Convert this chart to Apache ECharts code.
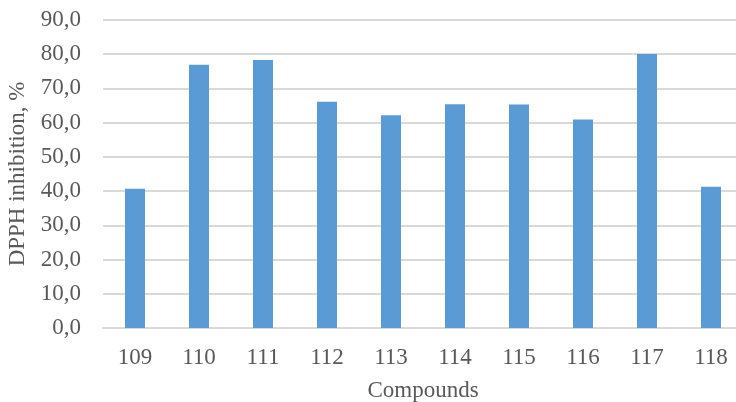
<!DOCTYPE html>
<html>
<head>
<meta charset="utf-8">
<script src="https://cdn.jsdelivr.net/npm/echarts@6/dist/echarts.min.js"></script>
<style>
  html, body { margin: 0; padding: 0; background: #fff; }
  #chart { width: 736px; height: 402px; }
</style>
</head>
<body>
<div id="chart"></div>
<script>
// Compounds and their DPPH radical inhibition (%)
const compounds = ['109', '110', '111', '112', '113', '114', '115', '116', '117', '118'];
const inhibition = [40.7, 76.9, 78.3, 66.1, 62.2, 65.4, 65.3, 60.9, 80.1, 41.3];

const yMin = 0;
const yMax = 90;
const yStep = 10;

const fontFamily = '"Liberation Serif", "Times New Roman", serif';
const fontSize = 23;
const textColor = '#595959';
const gridColor = '#d9d9d9';

const chart = echarts.init(document.getElementById('chart'), null, { renderer: 'canvas' });
chart.setOption({
  animation: false,
  backgroundColor: '#ffffff',
  grid: {
    left: 103, right: -7, top: 20, bottom: 74,
    containLabel: false,
    outerBoundsMode: 'none'
  },
  xAxis: {
    type: 'category',
    data: compounds,
    name: 'Compounds',
    nameLocation: 'middle',
    nameGap: 51,
    nameTextStyle: { fontFamily, fontSize, color: textColor },
    axisLine: { show: true, lineStyle: { color: gridColor, width: 2 } },
    axisTick: { show: false },
    axisLabel: { fontFamily, fontSize, color: textColor, margin: 18 }
  },
  yAxis: {
    type: 'value',
    min: yMin,
    max: yMax,
    interval: yStep,
    name: 'DPPH inhibition, %',
    nameLocation: 'middle',
    nameGap: 73,
    nameRotate: 90,
    nameTextStyle: { fontFamily, fontSize, color: textColor },
    axisLine: { show: false },
    axisTick: { show: false },
    splitLine: { lineStyle: { color: gridColor, width: 2 } },
    axisLabel: {
      fontFamily, fontSize, color: textColor, margin: 22,
      formatter: v => v.toFixed(1).replace('.', ',')
    }
  },
  series: [{
    type: 'bar',
    data: inhibition,
    barWidth: 20,
    itemStyle: { color: '#5b9bd5' }
  }]
});
</script>
</body>
</html>
